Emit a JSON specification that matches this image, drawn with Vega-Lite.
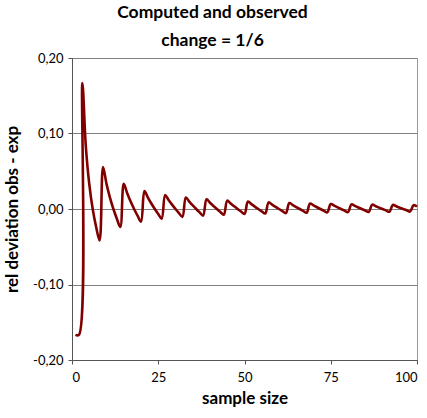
{
  "$schema": "https://vega.github.io/schema/vega-lite/v6.json",
  "autosize": {"type": "none"},
  "width": 345,
  "height": 302,
  "padding": {"left": 72, "top": 58, "right": 10, "bottom": 58},
  "background": "white",
  "title": {
    "text": ["Computed and observed", "change = 1/6"],
    "font": "Lato",
    "fontSize": 17.5,
    "fontWeight": "bold",
    "color": "#000000",
    "lineHeight": 28,
    "anchor": "middle",
    "dx": -32,
    "offset": 3
  },
  "config": {
    "view": {"stroke": "#9a9a9a", "strokeWidth": 1},
    "axis": {
      "labelFont": "Lato",
      "labelFontSize": 13,
      "labelColor": "#000000",
      "titleFont": "Lato",
      "titleFontSize": 17,
      "titleFontWeight": "bold",
      "titleColor": "#000000",
      "domainColor": "#555555",
      "tickColor": "#555555",
      "tickSize": 4,
      "gridColor": "#808080",
      "gridOpacity": 1
    }
  },
  "data": {
    "values": [
      {"n": 1, "dev": -0.16667}, {"n": 2, "dev": -0.16667}, {"n": 3, "dev": 0.16667}, {"n": 4, "dev": 0.08333},
      {"n": 5, "dev": 0.03333}, {"n": 6, "dev": 0}, {"n": 7, "dev": -0.02381}, {"n": 8, "dev": -0.04167},
      {"n": 9, "dev": 0.05556}, {"n": 10, "dev": 0.03333}, {"n": 11, "dev": 0.01515}, {"n": 12, "dev": 0},
      {"n": 13, "dev": -0.01282}, {"n": 14, "dev": -0.02381}, {"n": 15, "dev": 0.03333}, {"n": 16, "dev": 0.02083},
      {"n": 17, "dev": 0.0098}, {"n": 18, "dev": 0}, {"n": 19, "dev": -0.00877}, {"n": 20, "dev": -0.01667},
      {"n": 21, "dev": 0.02381}, {"n": 22, "dev": 0.01515}, {"n": 23, "dev": 0.00725}, {"n": 24, "dev": 0},
      {"n": 25, "dev": -0.00667}, {"n": 26, "dev": -0.01282}, {"n": 27, "dev": 0.01852}, {"n": 28, "dev": 0.0119},
      {"n": 29, "dev": 0.00575}, {"n": 30, "dev": 0}, {"n": 31, "dev": -0.00538}, {"n": 32, "dev": -0.01042},
      {"n": 33, "dev": 0.01515}, {"n": 34, "dev": 0.0098}, {"n": 35, "dev": 0.00476}, {"n": 36, "dev": 0},
      {"n": 37, "dev": -0.0045}, {"n": 38, "dev": -0.00877}, {"n": 39, "dev": 0.01282}, {"n": 40, "dev": 0.00833},
      {"n": 41, "dev": 0.00407}, {"n": 42, "dev": 0}, {"n": 43, "dev": -0.00388}, {"n": 44, "dev": -0.00758},
      {"n": 45, "dev": 0.01111}, {"n": 46, "dev": 0.00725}, {"n": 47, "dev": 0.00355}, {"n": 48, "dev": 0},
      {"n": 49, "dev": -0.0034}, {"n": 50, "dev": -0.00667}, {"n": 51, "dev": 0.0098}, {"n": 52, "dev": 0.00641},
      {"n": 53, "dev": 0.00314}, {"n": 54, "dev": 0}, {"n": 55, "dev": -0.00303}, {"n": 56, "dev": -0.00595},
      {"n": 57, "dev": 0.00877}, {"n": 58, "dev": 0.00575}, {"n": 59, "dev": 0.00282}, {"n": 60, "dev": 0},
      {"n": 61, "dev": -0.00273}, {"n": 62, "dev": -0.00538}, {"n": 63, "dev": 0.00794}, {"n": 64, "dev": 0.00521},
      {"n": 65, "dev": 0.00256}, {"n": 66, "dev": 0}, {"n": 67, "dev": -0.00249}, {"n": 68, "dev": -0.0049},
      {"n": 69, "dev": 0.00725}, {"n": 70, "dev": 0.00476}, {"n": 71, "dev": 0.00235}, {"n": 72, "dev": 0},
      {"n": 73, "dev": -0.00228}, {"n": 74, "dev": -0.0045}, {"n": 75, "dev": 0.00667}, {"n": 76, "dev": 0.00439},
      {"n": 77, "dev": 0.00216}, {"n": 78, "dev": 0}, {"n": 79, "dev": -0.00211}, {"n": 80, "dev": -0.00417},
      {"n": 81, "dev": 0.00617}, {"n": 82, "dev": 0.00407}, {"n": 83, "dev": 0.00201}, {"n": 84, "dev": 0},
      {"n": 85, "dev": -0.00196}, {"n": 86, "dev": -0.00388}, {"n": 87, "dev": 0.00575}, {"n": 88, "dev": 0.00379},
      {"n": 89, "dev": 0.00187}, {"n": 90, "dev": 0}, {"n": 91, "dev": -0.00183}, {"n": 92, "dev": -0.00362},
      {"n": 93, "dev": 0.00538}, {"n": 94, "dev": 0.00355}, {"n": 95, "dev": 0.00175}, {"n": 96, "dev": 0},
      {"n": 97, "dev": -0.00172}, {"n": 98, "dev": -0.0034}, {"n": 99, "dev": 0.00505}, {"n": 100, "dev": 0.00333}
    ]
  },
  "mark": {"type": "line", "color": "#800000", "strokeWidth": 2.6, "interpolate": "catmull-rom"},
  "encoding": {
    "x": {
      "field": "n",
      "type": "quantitative",
      "title": "sample size",
      "scale": {"domain": [0, 100], "nice": false},
      "axis": {
        "values": [0, 25, 50, 75, 100],
        "grid": false,
        "labelPadding": 7,
        "titlePadding": 6
      }
    },
    "y": {
      "field": "dev",
      "type": "quantitative",
      "title": "rel deviation obs - exp",
      "scale": {"domain": [-0.2, 0.2], "nice": false},
      "axis": {
        "values": [-0.2, -0.1, 0, 0.1, 0.2],
        "grid": true,
        "labelPadding": 5,
        "titlePadding": 11,
        "labelExpr": "replace(replace(format(datum.value, '.2f'), '.', ','), '\u2212', '-')"
      }
    }
  }
}
